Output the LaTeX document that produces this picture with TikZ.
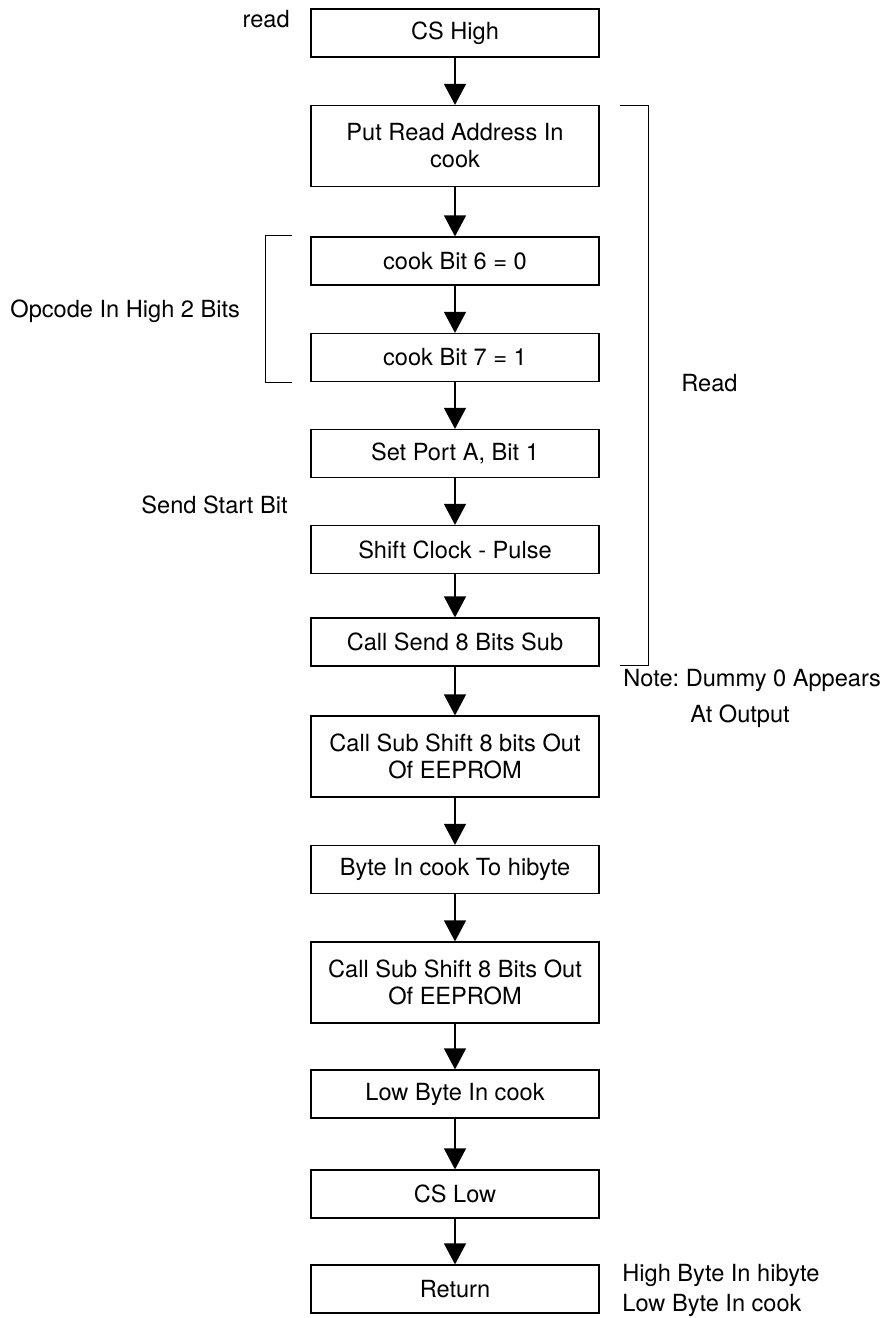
\documentclass[tikz,border=0pt]{standalone}
\usepackage{fontspec}
\setmainfont{TeX Gyre Heros}
\usetikzlibrary{arrows.meta,positioning}
\frenchspacing

\begin{document}
\begin{tikzpicture}[x=0.5pt, y=-0.5pt,
  stp/.style={rectangle, draw, line width=0.6pt, minimum width=144pt, minimum height=24pt, align=center, font=\fontsize{11.8}{13.5}\selectfont, inner sep=2pt},
  stp2/.style={stp, minimum height=40.5pt},
  arr/.style={-{Triangle[length=10.5pt, width=11pt]}, line width=0.6pt},
  brk/.style={line width=0.5pt},
  lbl/.style={font=\fontsize{11.8}{15}\selectfont, inner sep=0pt}
]
  \useasboundingbox (0,0) rectangle (885,1318);

  % main flow
  \node[stp]  (cshigh)   at (455,33)     {CS High};
  \node[stp2] (putaddr)  at (455,146)    {Put Read Address In\\cook};
  \node[stp]  (bitsix)   at (455,261)    {cook Bit 6 = 0};
  \node[stp]  (bitseven) at (455,357.5)  {cook Bit 7 = 1};
  \node[stp]  (setport)  at (455,453.5)  {Set Port A, Bit 1};
  \node[stp]  (shiftclk) at (455,549.5)  {Shift Clock - Pulse};
  \node[stp]  (callsend) at (455,642)    {Call Send 8 Bits Sub};
  \node[stp2] (callsubA) at (455,756.5)  {Call Sub Shift 8 bits Out\\Of EEPROM};
  \node[stp]  (tohibyte) at (455,869.5)  {Byte In cook To hibyte};
  \node[stp2] (callsubB) at (455,982.5)  {Call Sub Shift 8 Bits Out\\Of EEPROM};
  \node[stp]  (lowbyte)  at (455,1094)   {Low Byte In cook};
  \node[stp]  (cslow)    at (455,1194)   {CS Low};
  \node[stp]  (ret)      at (455,1289)   {Return};

  \draw[arr] (cshigh) -- (putaddr);
  \draw[arr] (putaddr) -- (bitsix);
  \draw[arr] (bitsix) -- (bitseven);
  \draw[arr] (bitseven) -- (setport);
  \draw[arr] (setport) -- (shiftclk);
  \draw[arr] (shiftclk) -- (callsend);
  \draw[arr] (callsend) -- (callsubA);
  \draw[arr] (callsubA) -- (tohibyte);
  \draw[arr] (tohibyte) -- (callsubB);
  \draw[arr] (callsubB) -- (lowbyte);
  \draw[arr] (lowbyte) -- (cslow);
  \draw[arr] (cslow) -- (ret);

  % brackets
  \draw[brk] (292,235) -| (265,382) -- (292,382);
  \draw[brk] (620,105) -| (648,665) -- (620,665);

  % side labels
  \node[lbl, anchor=base east] (lread)   at (290,27)  {read};
  \node[lbl, anchor=base west] (lopcode) at (10,317)  {Opcode In High 2 Bits};
  \node[lbl, anchor=base east] (lstart)  at (288,513) {Send Start Bit};
  \node[lbl, anchor=base west] (lreadb)  at (681,391) {Read};
  \node[lbl, anchor=base west] (lnote)   at (623,686) {Note: Dummy 0 Appears};
  \node[lbl, anchor=base west] (lnoteb)  at (690,722) {At Output};
  \node[lbl, anchor=west, align=left] (lresult) at (622,1290.5) {High Byte In hibyte\\Low Byte In cook};
\end{tikzpicture}
\end{document}
